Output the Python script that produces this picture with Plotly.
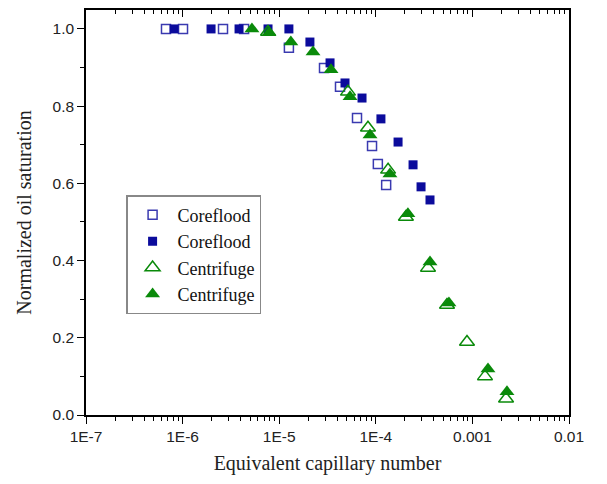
import plotly.graph_objects as go

# Coreflood (open squares)
cf_open_x = [6.73e-7, 1.01e-6, 2.62e-6, 4.33e-6, 1.26e-5, 2.91e-5, 4.26e-5, 6.39e-5, 9.14e-5, 1.05e-4, 1.28e-4]
cf_open_y = [1.0, 1.0, 1.0, 1.0, 0.951, 0.899, 0.850, 0.769, 0.697, 0.650, 0.596]
# Coreflood (filled squares)
cf_fill_x = [8.15e-7, 1.97e-6, 3.84e-6, 7.66e-6, 1.26e-5, 2.08e-5, 3.36e-5, 4.80e-5, 7.20e-5, 1.13e-4, 1.70e-4, 2.43e-4, 2.94e-4, 3.64e-4]
cf_fill_y = [1.0, 1.0, 1.0, 1.0, 1.0, 0.966, 0.912, 0.860, 0.821, 0.767, 0.707, 0.648, 0.591, 0.557]
# Centrifuge (open triangles)
cg_open_x = [7.66e-6, 5.15e-5, 8.30e-5, 1.34e-4, 2.05e-4, 3.47e-4, 5.46e-4, 8.79e-4, 1.35e-3, 2.23e-3]
cg_open_y = [0.992, 0.837, 0.744, 0.635, 0.513, 0.381, 0.285, 0.189, 0.100, 0.042]
# Centrifuge (filled triangles)
cg_fill_x = [5.22e-6, 7.84e-6, 1.32e-5, 2.24e-5, 3.44e-5, 5.41e-5, 8.71e-5, 1.40e-4, 2.15e-4, 3.64e-4, 5.72e-4, 1.45e-3, 2.28e-3]
cg_fill_y = [1.0, 0.99, 0.966, 0.94, 0.894, 0.824, 0.725, 0.624, 0.521, 0.396, 0.29, 0.119, 0.06]

x_tickvals = [1e-7, 1e-6, 1e-5, 1e-4, 1e-3, 1e-2]
x_ticktext = ["1E-7", "1E-6", "1E-5", "1E-4", "0.001", "0.01"]
x_minor = [k * 10.0 ** e for e in range(-7, -2) for k in range(2, 10)]
y_tickvals = [0.0, 0.2, 0.4, 0.6, 0.8, 1.0]
y_ticktext = ["0.0", "0.2", "0.4", "0.6", "0.8", "1.0"]
y_minor = [0.1, 0.3, 0.5, 0.7, 0.9]

BLUE = "#0b0b9c"
OPENBLUE = "#3a3ab0"
GREEN = "#0a8a0a"

fig = go.Figure()
fig.add_trace(go.Scatter(x=cf_open_x, y=cf_open_y, mode="markers", name="Coreflood",
                         marker=dict(symbol="square-open", size=9, color=OPENBLUE, line=dict(width=1.5))))
fig.add_trace(go.Scatter(x=cf_fill_x, y=cf_fill_y, mode="markers", name="Coreflood",
                         marker=dict(symbol="square", size=9, color=BLUE)))
fig.add_trace(go.Scatter(x=cg_open_x, y=cg_open_y, mode="markers", name="Centrifuge",
                         marker=dict(symbol="triangle-up-open", size=13, color=GREEN, line=dict(width=1.5))))
fig.add_trace(go.Scatter(x=cg_fill_x, y=cg_fill_y, mode="markers", name="Centrifuge",
                         marker=dict(symbol="triangle-up", size=13, color=GREEN)))
# top axis ticks (inside)
fig.add_trace(go.Scatter(x=[1e-7], y=[None], xaxis="x2", showlegend=False, hoverinfo="skip"))

fig.update_layout(
    width=607, height=484,
    margin=dict(l=86, r=38, t=10, b=69),
    paper_bgcolor="white", plot_bgcolor="white",
    showlegend=True,
    legend=dict(x=0.083, y=0.543, xanchor="left", yanchor="top",
                bordercolor="#888888", borderwidth=1.5, bgcolor="white",
                font=dict(family="Liberation Serif", size=18, color="#111"),
                tracegroupgap=0, itemwidth=40),
    xaxis=dict(type="log", range=[-7, -2], tickvals=x_tickvals, ticktext=x_ticktext,
               ticks="outside", ticklen=7, tickwidth=1.2, tickcolor="black",
               showline=True, linecolor="black", linewidth=1.5, mirror=False,
               showgrid=False, zeroline=False,
               minor=dict(tickvals=x_minor, ticks="outside", ticklen=4, tickcolor="black", showgrid=False),
               tickfont=dict(family="Liberation Sans", size=15.5, color="#222"),
               title=dict(text="Equivalent capillary number", standoff=12,
                          font=dict(family="Liberation Serif", size=20, color="#222"))),
    xaxis2=dict(type="log", range=[-7, -2], overlaying="x", side="top", tickvals=x_tickvals,
                showticklabels=False, ticks="inside", ticklen=7, tickwidth=1.2, tickcolor="black",
                showline=True, linecolor="black", linewidth=1.5, showgrid=False, zeroline=False,
                minor=dict(tickvals=x_minor, ticks="inside", ticklen=4, tickcolor="black", showgrid=False)),
    yaxis=dict(range=[0, 1.049], tickvals=y_tickvals, ticktext=y_ticktext,
               ticks="outside", ticklen=7, tickwidth=1.2, tickcolor="black",
               showline=True, linecolor="black", linewidth=1.5, mirror=True,
               showgrid=False, zeroline=False,
               minor=dict(tickvals=y_minor, ticks="outside", ticklen=4, tickcolor="black", showgrid=False),
               tickfont=dict(family="Liberation Sans", size=15.5, color="#222"),
               title=dict(text="Normalized oil saturation", standoff=16,
                          font=dict(family="Liberation Serif", size=20, color="#222"))),
)

fig.write_html("out.html")
